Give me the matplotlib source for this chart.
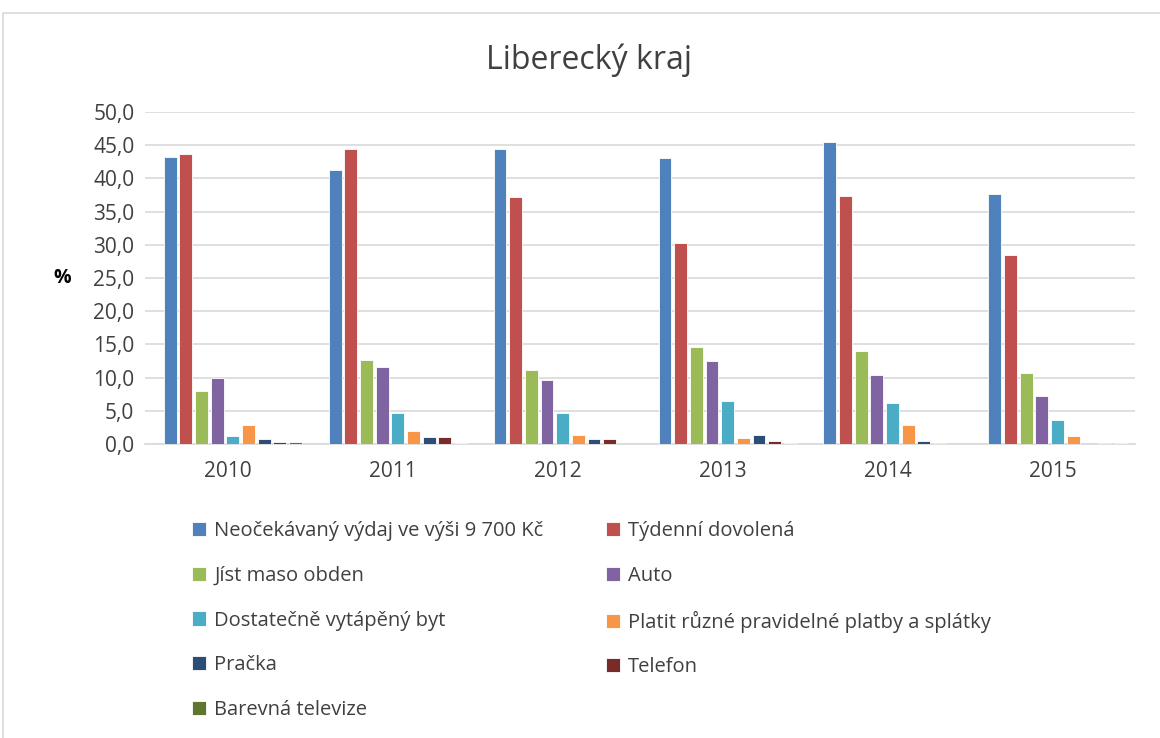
import numpy as np
import matplotlib.pyplot as plt
from matplotlib.patches import Rectangle

plt.rcParams['font.family'] = ['Open Sans', 'DejaVu Sans']

years = ['2010', '2011', '2012', '2013', '2014', '2015']
series_names = [
    'Neočekávaný výdaj ve výši 9 700 Kč',
    'Týdenní dovolená',
    'Jíst maso obden',
    'Auto',
    'Dostatečně vytápěný byt',
    'Platit různé pravidelné platby a splátky',
    'Pračka',
    'Telefon',
    'Barevná televize',
]
neocekavany = [43.2, 41.3, 44.4, 43.1, 45.5, 37.7]
dovolena = [43.6, 44.4, 37.2, 30.2, 37.4, 28.5]
maso = [8.0, 12.7, 11.2, 14.6, 14.0, 10.7]
auto = [10.0, 11.6, 9.6, 12.5, 10.4, 7.2]
vytapeny = [1.2, 4.6, 4.6, 6.4, 6.1, 3.6]
platby = [2.9, 2.0, 1.3, 0.9, 2.9, 1.2]
pracka = [0.7, 1.0, 0.7, 1.4, 0.5, 0.0]
telefon = [0.3, 1.0, 0.7, 0.4, 0.2, 0.2]
televize = [0.3, 0.2, 0.0, 0.1, 0.0, 0.2]
values = [neocekavany, dovolena, maso, auto, vytapeny, platby, pracka, telefon, televize]

colors = ['#4F81BD', '#C0504D', '#9BBB59', '#8064A2', '#4BACC6',
          '#F79646', '#2C4D75', '#772C2A', '#5F7530']

fig = plt.figure(figsize=(11.6, 7.38), dpi=100)
# light frame around the chart, as in the source
fig.patches.append(Rectangle((3 / 1160, -0.05), 1.1, 1 - 13 / 738 + 0.05,
                             transform=fig.transFigure, fill=False,
                             edgecolor='#D9D9D9', linewidth=1.2))

ax = fig.add_axes([0.1254, 0.3984, 0.853, 0.4499])
x = np.arange(len(years))
step = 0.095
handles = []
for i, (vals, c) in enumerate(zip(values, colors)):
    off = (i - 4) * step + 0.03
    b = ax.bar(x + off, vals, width=0.078, color=c, edgecolor='white',
               linewidth=0.6, zorder=3)
    handles.append(b)

ax.set_xlim(-0.5, 5.5)
ax.set_ylim(0, 50)
ax.set_yticks(np.arange(0, 51, 5))
ax.set_yticklabels([f'{v:.1f}'.replace('.', ',') for v in np.arange(0, 51, 5)])
ax.set_xticks(x)
ax.set_xticklabels(years)
ax.grid(axis='y', color='#D9D9D9', linewidth=1.2, zorder=0)
for s in ['top', 'right', 'left']:
    ax.spines[s].set_visible(False)
ax.spines['bottom'].set_color('#D9D9D9')
ax.spines['bottom'].set_linewidth(1.2)
ax.tick_params(axis='both', length=0, labelsize=15, colors='#404040', pad=8)
ax.tick_params(axis='x', pad=12)

ax.set_ylabel('%', rotation=0, fontsize=14, fontweight='bold', labelpad=22,
              va='center')

fig.text(0.508, 0.919, 'Liberecký kraj', ha='center', va='center',
         fontsize=23, color='#404040')

order = [0, 2, 4, 6, 8, 1, 3, 5, 7]
leg = fig.legend([handles[i] for i in order], [series_names[i] for i in order],
                 ncol=2, loc='upper left', bbox_to_anchor=(0.150, 0.318),
                 frameon=False, fontsize=14.5, handlelength=0.7,
                 handleheight=0.7, handletextpad=0.4, labelspacing=1.22,
                 columnspacing=3.1)
for t in leg.get_texts():
    t.set_color('#404040')

fig.savefig('out.png', dpi=100)
